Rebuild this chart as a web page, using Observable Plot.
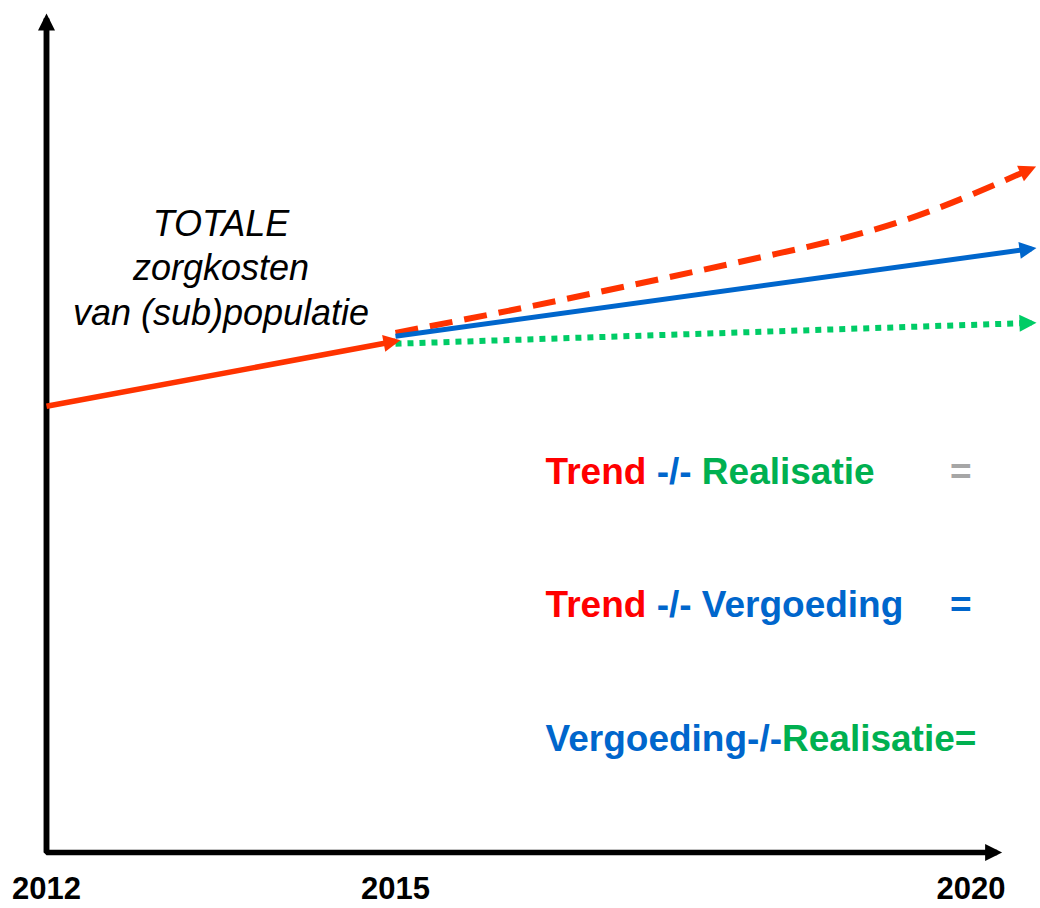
<!DOCTYPE html>
<html><head><meta charset="utf-8">
<script src="https://cdn.jsdelivr.net/npm/d3@7"></script>
<script src="https://cdn.jsdelivr.net/npm/@observablehq/plot@0.6"></script>
<style>html,body{margin:0;padding:0;background:#fff;overflow:hidden} svg{display:block}</style>
</head><body><div id="chart"></div>
<script>
// ---- data (years on x, relative total care cost index on y) ----
const tickYears = [2012, 2015, 2020];
const tickLabels = ["2012", "2015", "2020"];

const historyYears = [2012, 2015];
const historyCost = [53.5, 61.3];

const trendYears = [2015, 2016, 2017, 2018, 2019, 2020];
const trendCost = [62.3, 65.3, 68.5, 71.8, 75.8, 82.0];

const vergoedingYears = [2015, 2020];
const vergoedingCost = [61.9, 72.4];

const realisatieYears = [2015, 2020];
const realisatieCost = [61.0, 63.5];

const axisOrigin = [2012, 0];
const axisYearEnd = 2019.73;
const axisCostTop = 100;

const titleLines = ["TOTALE", "zorgkosten", "van (sub)populatie"];
const titleYear = 2013.5;
const titleCost = 70.3;

const equations = ["Trend -/- Realisatie", "Trend -/- Vergoeding", "Vergoeding-/-Realisatie="];
const eqParts = [["Trend ", "-/- ", "Realisatie"], ["Trend ", "-/- ", "Vergoeding"], ["Vergoeding-/-", "Realisatie="]];
const eqPartSeries = [["trend", "vergoeding", "realisatie"], ["trend", "vergoeding", "vergoeding"], ["vergoeding", "realisatie"]];
const eqSigns = ["=", "="];
const eqSignSeries = ["neutral", "vergoeding"];
const eqYear = 2016.18;
const eqSignYear = 2019.36;
const eqCost = [45.6, 29.6, 13.6];

// ---- styles ----
const lineColor = {trend: "#ff3300", vergoeding: "#0066cc", realisatie: "#00cc66"};
const textColor = {trend: "#ff0000", vergoeding: "#0066cc", realisatie: "#00b050", neutral: "#a6a6a6"};

const pts = (xs, ys) => xs.map((x, i) => ({year: x, cost: ys[i]}));
const history = pts(historyYears, historyCost);
const trend = pts(trendYears, trendCost);
const vergoeding = pts(vergoedingYears, vergoedingCost);
const realisatie = pts(realisatieYears, realisatieCost);
const axisPath = [
  {year: axisOrigin[0], cost: axisCostTop},
  {year: axisOrigin[0], cost: axisOrigin[1]},
  {year: axisYearEnd, cost: axisOrigin[1]}
];
const yArrow = [{x1: axisOrigin[0], y1: axisOrigin[1], x2: axisOrigin[0], y2: axisCostTop}];

const chart = Plot.plot({
  width: 1040,
  height: 908,
  margin: 0,
  x: {type: "linear", domain: tickYears, range: [46, 395, 1031], axis: null},
  y: {domain: [0, 100], range: [852, 18], axis: null},
  style: {fontFamily: "'Liberation Sans', Arial, sans-serif", background: "#fff", overflow: "visible"},
  marks: [
    Plot.line(axisPath, {x: "year", y: "cost", stroke: "#000", strokeWidth: 5.5, strokeLinejoin: "miter", strokeLinecap: "butt", markerEnd: "arrow"}),
    Plot.link(yArrow, {x1: "x1", y1: "y1", x2: "x2", y2: "y2", stroke: "#000", strokeWidth: 5.5, strokeLinecap: "butt", markerEnd: "arrow"}),
    Plot.line(trend, {x: "year", y: "cost", curve: "natural", stroke: lineColor.trend, strokeWidth: 6, strokeDasharray: "23 12", strokeLinecap: "butt", markerEnd: "arrow"}),
    Plot.line(realisatie, {x: "year", y: "cost", stroke: lineColor.realisatie, strokeWidth: 6, strokeDasharray: "6 6", strokeLinecap: "butt", markerEnd: "arrow"}),
    Plot.line(vergoeding, {x: "year", y: "cost", stroke: lineColor.vergoeding, strokeWidth: 5, strokeLinecap: "butt", markerEnd: "arrow"}),
    Plot.line(history, {x: "year", y: "cost", stroke: lineColor.trend, strokeWidth: 5.5, strokeLinecap: "butt", markerEnd: "arrow"}),
    Plot.text([titleLines.join("\n")], {x: () => titleYear, y: () => titleCost, text: d => d, fontSize: 36, fontStyle: "italic", lineHeight: 1.24, fill: "#000", textAnchor: "middle"}),
    Plot.text(tickYears.slice(0, 2), {x: d => d, y: () => 0, text: (d, i) => tickLabels[i], dy: 37, fontSize: 31, fontWeight: "bold", fill: "#000"}),
    Plot.text(tickYears.slice(2), {x: d => d, y: () => 0, text: (d, i) => tickLabels[i + 2], dy: 37, dx: -26, textAnchor: "end", fontSize: 31, fontWeight: "bold", fill: "#000"}),
    Plot.text(equations, {x: () => eqYear, y: (d, i) => eqCost[i], text: d => d, textAnchor: "start", fontSize: 37, fontWeight: "bold", fill: "#000"}),
    Plot.text(eqSigns, {x: () => eqSignYear, y: (d, i) => eqCost[i], text: d => d, textAnchor: "start", fontSize: 37, fontWeight: "bold", fill: (d, i) => textColor[eqSignSeries[i]]})
  ]
});

// filled triangular arrowheads
chart.querySelectorAll("marker").forEach(m => {
  const c = m.getAttribute("stroke");
  m.setAttribute("viewBox", "-14 -10 20 20");
  m.setAttribute("markerWidth", 20);
  m.setAttribute("markerHeight", 20);
  m.setAttribute("markerUnits", "userSpaceOnUse");
  m.setAttribute("fill", c);
  m.setAttribute("stroke", "none");
  const p = m.querySelector("path");
  if (p) p.setAttribute("d", "M-12,-8.5L5,0L-12,8.5Z");
});

// multi-coloured equation text
chart.querySelectorAll("text").forEach(t => {
  const i = equations.indexOf(t.textContent);
  if (i < 0) return;
  t.textContent = "";
  t.style.whiteSpace = "pre";
  eqParts[i].forEach((part, j) => {
    const ts = document.createElementNS("http://www.w3.org/2000/svg", "tspan");
    ts.setAttribute("fill", textColor[eqPartSeries[i][j]]);
    ts.textContent = part;
    t.appendChild(ts);
  });
});

document.getElementById("chart").appendChild(chart);
</script>
</body></html>
